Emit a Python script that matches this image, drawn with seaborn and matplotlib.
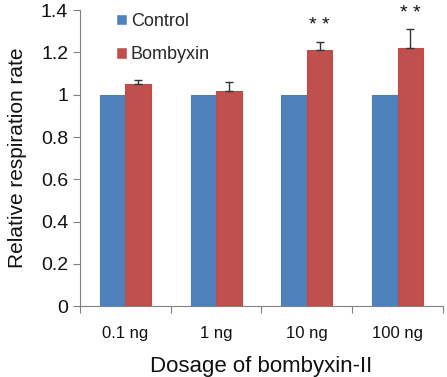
import numpy as np
import pandas as pd
import matplotlib
matplotlib.use("Agg")
import matplotlib.pyplot as plt
import seaborn as sns
from matplotlib.ticker import FuncFormatter, FixedLocator

doses = ["0.1 ng", "1 ng", "10 ng", "100 ng"]
groups = ["Control", "Bombyxin"]
control = [1.0, 1.0, 1.0, 1.0]
bombyxin = [1.05, 1.02, 1.21, 1.22]
bombyxin_err = [0.02, 0.04, 0.04, 0.09]
stars = ["", "", "* *", "* *"]

df = pd.DataFrame({
    "dose": doses * 2,
    "group": [groups[0]] * 4 + [groups[1]] * 4,
    "rate": control + bombyxin,
})

sns.set_style("white")
plt.rcParams["font.family"] = ["Liberation Sans", "DejaVu Sans"]

fig = plt.figure(figsize=(4.47, 3.77), dpi=100)
ax = fig.add_axes([0.179, 0.188, 0.812, 0.785])

sns.barplot(data=df, x="dose", y="rate", hue="group", order=doses,
            hue_order=groups, palette=["#4F81BD", "#C0504D"], width=0.56,
            errorbar=None, ax=ax, saturation=1)

# slightly darker outline like the Excel default
for cont, ec in zip(ax.containers, ["#4A7EBB", "#BE4B48"]):
    for bar in cont:
        bar.set_edgecolor(ec)
        bar.set_linewidth(0.8)

# error bars and stars on the Bombyxin bars
red_bars = ax.containers[1]
for bar, e, s in zip(red_bars, bombyxin_err, stars):
    xc = bar.get_x() + bar.get_width() / 2
    h = bar.get_height()
    ax.errorbar(xc, h, yerr=[[0], [e]], fmt="none", ecolor="#333333",
                elinewidth=1, capsize=3.2, capthick=1)
    if s:
        ax.text(xc, h + e + 0.035, s, ha="center", va="bottom", fontsize=14,
                color="#111111")

ax.set_ylim(0, 1.4)
ax.set_xlim(-0.5, 3.5)
ax.set_yticks(np.arange(0, 1.41, 0.2))
ax.yaxis.set_major_formatter(FuncFormatter(lambda v, p: f"{v:g}"))
ax.xaxis.set_minor_locator(FixedLocator([-0.5, 0.5, 1.5, 2.5, 3.5]))
ax.tick_params(axis="x", which="major", length=0, labelsize=12, pad=14,
               colors="#111111")
ax.tick_params(axis="x", which="minor", length=5, width=0.8,
               direction="out", color="#808080", bottom=True)
ax.tick_params(axis="y", length=5, width=0.8, direction="out",
               color="#808080", labelsize=14, labelcolor="#111111", left=True)

for side in ["top", "right"]:
    ax.spines[side].set_visible(False)
for side in ["left", "bottom"]:
    ax.spines[side].set_color("#808080")
    ax.spines[side].set_linewidth(0.8)

ax.set_xlabel("Dosage of bombyxin-II", fontsize=16, color="#111111", labelpad=11)
ax.set_ylabel("Relative respiration rate", fontsize=15, color="#111111",
              labelpad=10)

ax.legend(loc="upper left", bbox_to_anchor=(0.055, 1.045), frameon=False,
          fontsize=13, handlelength=0.6, handleheight=0.6,
          handletextpad=0.2, labelspacing=0.9)

fig.savefig("out.png", dpi=100)
